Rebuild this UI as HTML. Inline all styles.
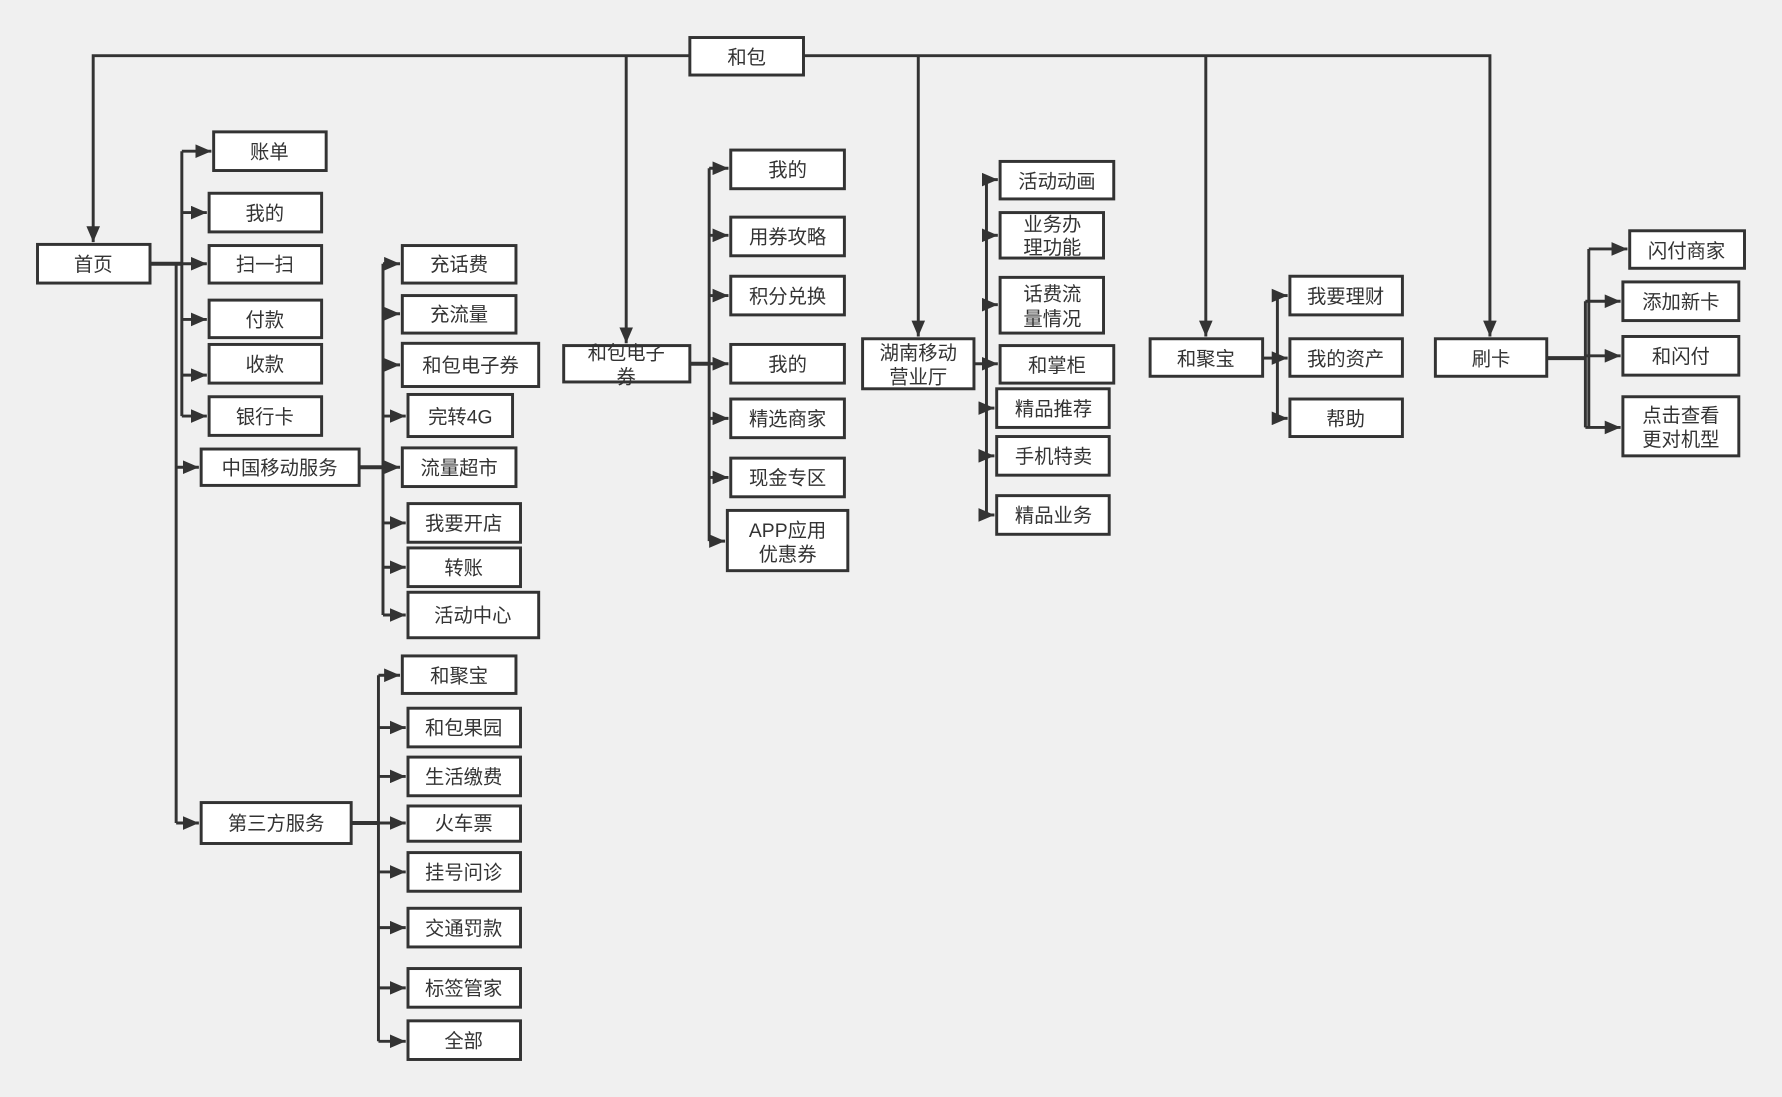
<!DOCTYPE html>
<html><head><meta charset="utf-8"><style>
html,body{margin:0;padding:0;background:#f0f0f0;}
svg{display:block}
text{font-family:"Liberation Sans","Noto Sans CJK SC",sans-serif;font-size:17px;fill:#333;text-anchor:middle;dominant-baseline:central}
.b{fill:#fff;stroke:#333;stroke-width:2.6}
.l{fill:none;stroke:#333;stroke-width:2.6}
.t text{transform:translateY(1.5px)}
</style></head><body>
<svg width="1782" height="1097" viewBox="0 0 1568 965" preserveAspectRatio="none" xmlns="http://www.w3.org/2000/svg">
<defs><marker id="a" markerUnits="userSpaceOnUse" markerWidth="14" markerHeight="12" refX="14" refY="6" orient="auto"><path d="M0,0L14,6L0,12z" fill="#333"/></marker></defs>
<g class="l">
<path d="M607,49H82V213" marker-end="url(#a)"/>
<path d="M707,49H1311V296" marker-end="url(#a)"/>
<path d="M551,49V302" marker-end="url(#a)"/>
<path d="M808,49V296" marker-end="url(#a)"/>
<path d="M1061,49V296" marker-end="url(#a)"/>
<path d="M132,232H160" stroke-width="3.5"/>
<path d="M160,133V366M155,232V724"/>
<path d="M160,133H186" marker-end="url(#a)"/>
<path d="M160,187H182" marker-end="url(#a)"/>
<path d="M160,232H182" marker-end="url(#a)"/>
<path d="M160,281H182" marker-end="url(#a)"/>
<path d="M160,330H182" marker-end="url(#a)"/>
<path d="M160,366H182" marker-end="url(#a)"/>
<path d="M155,411H175" marker-end="url(#a)"/>
<path d="M155,724H175" marker-end="url(#a)"/>
<path d="M316,411H337" stroke-width="3.5"/>
<path d="M337,232V541"/>
<path d="M337,232H352" marker-end="url(#a)"/>
<path d="M337,276H352" marker-end="url(#a)"/>
<path d="M337,321H352" marker-end="url(#a)"/>
<path d="M337,366H357" marker-end="url(#a)"/>
<path d="M337,411H352" marker-end="url(#a)"/>
<path d="M337,460H357" marker-end="url(#a)"/>
<path d="M337,499H357" marker-end="url(#a)"/>
<path d="M337,541H357" marker-end="url(#a)"/>
<path d="M309,724H333" stroke-width="3.5"/>
<path d="M333,594V916"/>
<path d="M333,594H352" marker-end="url(#a)"/>
<path d="M333,640H357" marker-end="url(#a)"/>
<path d="M333,683H357" marker-end="url(#a)"/>
<path d="M333,724H357" marker-end="url(#a)"/>
<path d="M333,767H357" marker-end="url(#a)"/>
<path d="M333,816H357" marker-end="url(#a)"/>
<path d="M333,869H357" marker-end="url(#a)"/>
<path d="M333,916H357" marker-end="url(#a)"/>
<path d="M607,320H624" stroke-width="3.5"/>
<path d="M624,148V476"/>
<path d="M624,148H641" marker-end="url(#a)"/>
<path d="M624,207H641" marker-end="url(#a)"/>
<path d="M624,260H641" marker-end="url(#a)"/>
<path d="M624,320H641" marker-end="url(#a)"/>
<path d="M624,368H641" marker-end="url(#a)"/>
<path d="M624,420H641" marker-end="url(#a)"/>
<path d="M624,476H638" marker-end="url(#a)"/>
<path d="M857,320H868"/>
<path d="M868,158V453"/>
<path d="M868,158H878" marker-end="url(#a)"/>
<path d="M868,207H878" marker-end="url(#a)"/>
<path d="M868,268H878" marker-end="url(#a)"/>
<path d="M868,320H878" marker-end="url(#a)"/>
<path d="M868,359H875" marker-end="url(#a)"/>
<path d="M868,401H875" marker-end="url(#a)"/>
<path d="M868,453H875" marker-end="url(#a)"/>
<path d="M1111,315H1124"/>
<path d="M1124,260V368"/>
<path d="M1124,260H1133" marker-end="url(#a)"/>
<path d="M1124,315H1133" marker-end="url(#a)"/>
<path d="M1124,368H1133" marker-end="url(#a)"/>
<path d="M1361,315H1395" stroke-width="3.5"/>
<path d="M1398,219V376M1395,265V376"/>
<path d="M1398,219H1432" marker-end="url(#a)"/>
<path d="M1395,265H1426" marker-end="url(#a)"/>
<path d="M1395,313H1426" marker-end="url(#a)"/>
<path d="M1395,376H1426" marker-end="url(#a)"/>
</g>
<g class="t">
<rect class="b" x="607" y="33" width="100" height="33"/><text x="657" y="50">和包</text>
<rect class="b" x="33" y="215" width="99" height="34"/><text x="82" y="232">首页</text>
<rect class="b" x="188" y="116" width="99" height="34"/><text x="237" y="133">账单</text>
<rect class="b" x="184" y="170" width="99" height="34"/><text x="233" y="187">我的</text>
<rect class="b" x="184" y="216" width="99" height="33"/><text x="233" y="232">扫一扫</text>
<rect class="b" x="184" y="264" width="99" height="33"/><text x="233" y="281">付款</text>
<rect class="b" x="184" y="303" width="99" height="34"/><text x="233" y="320">收款</text>
<rect class="b" x="184" y="349" width="99" height="34"/><text x="233" y="366">银行卡</text>
<rect class="b" x="177" y="395" width="139" height="32"/><text x="246" y="411">中国移动服务</text>
<rect class="b" x="177" y="706" width="132" height="36"/><text x="243" y="724">第三方服务</text>
<rect class="b" x="354" y="216" width="100" height="33"/><text x="404" y="232">充话费</text>
<rect class="b" x="354" y="260" width="100" height="33"/><text x="404" y="276">充流量</text>
<rect class="b" x="354" y="302" width="120" height="38"/><text x="414" y="321">和包电子券</text>
<rect class="b" x="359" y="347" width="92" height="37"/><text x="405" y="366">完转4G</text>
<rect class="b" x="354" y="394" width="100" height="34"/><text x="404" y="411">流量超市</text>
<rect class="b" x="359" y="443" width="99" height="34"/><text x="408" y="460">我要开店</text>
<rect class="b" x="359" y="482" width="99" height="34"/><text x="408" y="499">转账</text>
<rect class="b" x="359" y="521" width="115" height="40"/><text x="416" y="541">活动中心</text>
<rect class="b" x="354" y="577" width="100" height="33"/><text x="404" y="594">和聚宝</text>
<rect class="b" x="359" y="623" width="99" height="34"/><text x="408" y="640">和包果园</text>
<rect class="b" x="359" y="666" width="99" height="34"/><text x="408" y="683">生活缴费</text>
<rect class="b" x="359" y="709" width="99" height="31"/><text x="408" y="724">火车票</text>
<rect class="b" x="359" y="750" width="99" height="34"/><text x="408" y="767">挂号问诊</text>
<rect class="b" x="359" y="799" width="99" height="34"/><text x="408" y="816">交通罚款</text>
<rect class="b" x="359" y="852" width="99" height="34"/><text x="408" y="869">标签管家</text>
<rect class="b" x="359" y="898" width="99" height="34"/><text x="408" y="915">全部</text>
<rect class="b" x="496" y="304" width="111" height="32"/><text x="551" y="310">和包电子</text><text x="551" y="331">券</text>
<rect class="b" x="643" y="132" width="100" height="34"/><text x="693" y="149">我的</text>
<rect class="b" x="643" y="191" width="100" height="34"/><text x="693" y="208">用券攻略</text>
<rect class="b" x="643" y="243" width="100" height="34"/><text x="693" y="260">积分兑换</text>
<rect class="b" x="643" y="303" width="100" height="34"/><text x="693" y="320">我的</text>
<rect class="b" x="643" y="351" width="100" height="34"/><text x="693" y="368">精选商家</text>
<rect class="b" x="643" y="403" width="100" height="34"/><text x="693" y="420">现金专区</text>
<rect class="b" x="640" y="449" width="106" height="53"/><text x="693" y="466">APP应用</text><text x="693" y="487">优惠券</text>
<rect class="b" x="759" y="298" width="98" height="44"/><text x="808" y="310">湖南移动</text><text x="808" y="331">营业厅</text>
<rect class="b" x="880" y="142" width="100" height="33"/><text x="930" y="159">活动动画</text>
<rect class="b" x="880" y="187" width="91" height="40"/><text x="926" y="197">业务办</text><text x="926" y="217">理功能</text>
<rect class="b" x="880" y="244" width="91" height="49"/><text x="926" y="258">话费流</text><text x="926" y="280">量情况</text>
<rect class="b" x="880" y="304" width="100" height="33"/><text x="930" y="321">和掌柜</text>
<rect class="b" x="877" y="342" width="99" height="34"/><text x="927" y="359">精品推荐</text>
<rect class="b" x="877" y="384" width="99" height="34"/><text x="927" y="401">手机特卖</text>
<rect class="b" x="877" y="436" width="99" height="34"/><text x="927" y="453">精品业务</text>
<rect class="b" x="1012" y="298" width="99" height="33"/><text x="1061" y="315">和聚宝</text>
<rect class="b" x="1135" y="243" width="99" height="34"/><text x="1184" y="260">我要理财</text>
<rect class="b" x="1135" y="298" width="99" height="33"/><text x="1184" y="315">我的资产</text>
<rect class="b" x="1135" y="351" width="99" height="33"/><text x="1184" y="368">帮助</text>
<rect class="b" x="1263" y="298" width="98" height="33"/><text x="1312" y="315">刷卡</text>
<rect class="b" x="1434" y="203" width="101" height="33"/><text x="1484" y="220">闪付商家</text>
<rect class="b" x="1428" y="248" width="102" height="34"/><text x="1479" y="265">添加新卡</text>
<rect class="b" x="1428" y="296" width="102" height="34"/><text x="1479" y="313">和闪付</text>
<rect class="b" x="1428" y="349" width="102" height="52"/><text x="1479" y="365">点击查看</text><text x="1479" y="386">更对机型</text>
</g>
</svg>
</body></html>
